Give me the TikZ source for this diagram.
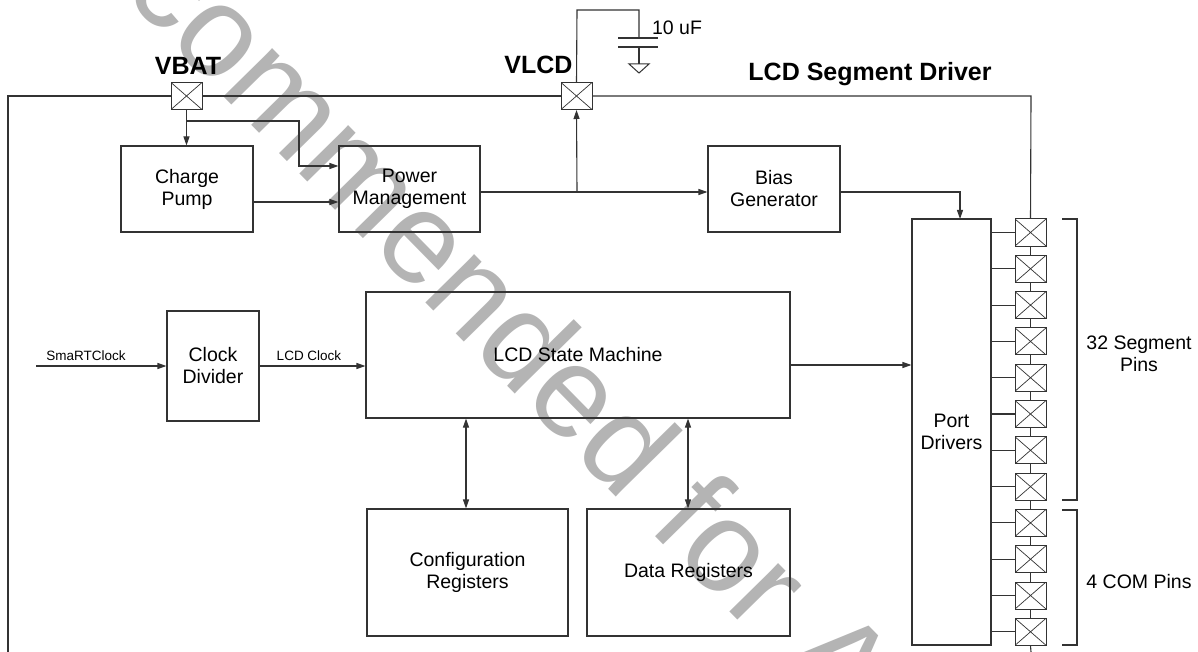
\documentclass[tikz,border=0pt]{standalone}
\usepackage{fontspec}
\setmainfont{Liberation Sans}
\usetikzlibrary{arrows.meta,calc}
\definecolor{ln}{HTML}{333333}
\definecolor{wm}{HTML}{B4B4B4}
\begin{document}
\begin{tikzpicture}[x=1pt,y=-1pt,
  every node/.style={font=\fontsize{19.5}{22}\selectfont, align=center, text=black},
  blk/.style={draw=ln, line width=1.1pt, inner sep=0pt},
  pad/.style={draw=ln, line width=1pt, fill=white, minimum width=31pt, minimum height=27pt, inner sep=0pt,
    path picture={\draw[ln, line width=0.7pt] (path picture bounding box.south west) -- (path picture bounding box.north east)
      (path picture bounding box.north west) -- (path picture bounding box.south east);}},
  wire/.style={draw=ln, line width=1.1pt},
  arr/.style={wire, -{Triangle[length=9pt,width=6pt]}},
  arrr/.style={wire, {Triangle[length=9pt,width=6pt]}-{Triangle[length=9pt,width=6pt]}},
  biglbl/.style={font=\fontsize{25}{29}\selectfont\bfseries},
  smalllbl/.style={font=\fontsize{13.5}{15}\selectfont},
  wmark/.style={font=\fontsize{130}{130}\selectfont, text=wm, inner sep=0pt},
]
\useasboundingbox (0,0) rectangle (1198,652);
\fill[white] (0,0) rectangle (1198,652);
% watermark
\begin{scope}
\clip (0,0) rectangle (1198,652);
\node[wmark, rotate=-45.5, anchor=base west] (wmtext) at (4.7,-125.9) {Recommended for All};
\end{scope}

% blocks
\node[blk, minimum width=132pt, minimum height=86pt] (cp) at (187,189) {Charge\\Pump};
\node[blk, minimum width=141pt, minimum height=86pt] (pm) at (409.5,189) {Power\\Management};
\node[blk, minimum width=132pt, minimum height=86pt] (bias) at (774,189) {Bias\\Generator};
\node[blk, minimum width=92pt, minimum height=110pt] (clk) at (213,366) {Clock\\Divider};
\node[blk, minimum width=424pt, minimum height=126pt] (sm) at (578,355) {LCD State Machine};
\node[blk, minimum width=201pt, minimum height=127pt] (cfg) at (467.5,572.5) {Configuration\\Registers};
\node[blk, minimum width=203pt, minimum height=127pt] (dat) at (688.5,572.5) {Data Registers};
\node[blk, minimum width=79pt, minimum height=426pt] (port) at (951.5,432) {Port\\Drivers};

% pads
\node[pad] (vbat) at (186.5,96) {};
\node[pad] (vlcd) at (576.5,96) {};
\foreach \i in {1,...,12} {
  \node[pad] (p\i) at (1030.5,{232.5+(\i-1)*36.3}) {};
}

% labels
\node[biglbl] (lvbat) at (188,66) {VBAT};
\node[biglbl, anchor=east] (lvlcd) at (576,65) {VLCD};
\node[biglbl] (ltitle) at (870,74) {LCD Segment Driver};
\node (lcap) at (677,28) {10 uF};
\node[smalllbl] (lsrc) at (86,356) {SmaRTClock};
\node[smalllbl] (llcdclk) at (309,356) {LCD Clock};
\node (lseg) at (1139,354) {32 Segment\\Pins};
\node (lcom) at (1139,582) {4 COM Pins};

% frame
\coordinate (ftl) at (8,96);
\coordinate (fbl) at (8,652);
\coordinate (ftr) at (1031,96);
\coordinate (fbr) at (1031,652);
\draw[wire] (fbl) -- (ftl) -- (vbat.west);
\draw[wire] (vbat.east) -- (vlcd.west);
\draw[wire] (vlcd.east) -- (ftr) -- (p1.north);
\foreach \i [evaluate=\i as \j using int(\i+1)] in {1,...,11} {
  \draw[wire] (p\i.south) -- (p\j.north);
}
\draw[wire] (p12.south) -- (fbr);
\foreach \i in {1,...,12} {
  \draw[wire] (port.east |- p\i.center) -- (p\i.west);
}

% power wiring
\coordinate (jb) at (186.5,121);
\coordinate (jb2) at (299,121);
\coordinate (jv) at (577,192);
\coordinate (bp) at (960,219);
\draw[arr] (vbat.south) -- (vbat.south |- cp.north);
\draw[arr] (jb) -- (jb2) |- (pm.west |- 0,166);
\draw[arr] (cp.east |- 0,202) -- (pm.west |- 0,202);
\draw[arr] (pm.east |- 0,192) -- (bias.west |- 0,192);
\draw[arr] (jv) -- (vlcd.south);
\draw[arr] (bias.east |- 0,192) -| (bp);

% capacitor
\coordinate (c1) at (577,10);
\coordinate (c2) at (639,10);
\draw[wire] (vlcd.north) -- (c1) -- (c2) -- (639,38);
\draw[wire] (618,38) -- (658,38);
\draw[wire] (618,47) -- (658,47);
\draw[wire] (639,47) -- (639,64);
\draw[ln, line width=1pt] (629,64) -- (649,64) -- (639,73) -- cycle;

% clock and data paths
\coordinate (src) at (36,366);
\draw[arr] (src) -- (clk.west);
\draw[arr] (clk.east) -- (clk.east -| sm.west);
\draw[arr] (sm.east |- 0,365) -- (port.west |- 0,365);
\draw[arrr] (cfg.north -| 466,0) -- (sm.south -| 466,0);
\draw[arrr] (dat.north -| 688,0) -- (sm.south -| 688,0);

% brackets
\draw[wire] (1062,219) -- (1077,219) -- (1077,500) -- (1062,500);
\draw[wire] (1062,510) -- (1077,510) -- (1077,645) -- (1062,645);
\end{tikzpicture}
\end{document}
